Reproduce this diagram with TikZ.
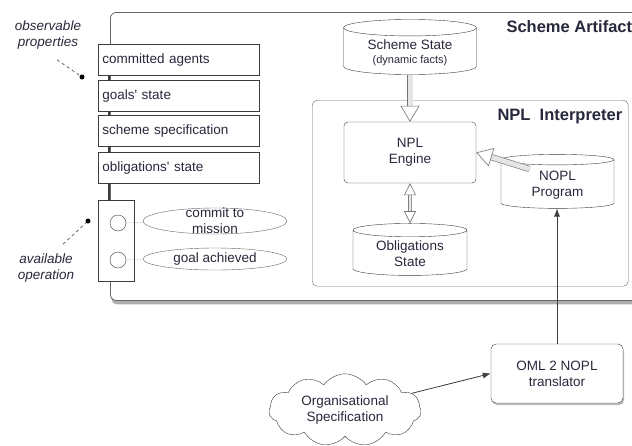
\documentclass[tikz,border=0pt]{standalone}
\usepackage{fontspec}
\setmainfont{Liberation Sans}
\usetikzlibrary{shapes.geometric,shapes.symbols,shadows,arrows.meta,positioning,calc}

\definecolor{txt}{RGB}{40,40,60}
\definecolor{edge}{RGB}{60,60,60}

\tikzset{
  artbox/.style={draw=black!60, thick, fill=white, rounded corners=6pt,
    drop shadow={shadow xshift=1pt, shadow yshift=-4pt, fill=black!45, opacity=0.7}},
  panel/.style={draw=black!60, fill=white, rounded corners=5pt},
  title/.style={font=\fontsize{16.5}{18}\selectfont\bfseries},
  propbox/.style={draw=edge, thick, fill=white, anchor=north west, minimum height=31pt,
    text width=153pt, inner xsep=4pt, align=left},
  opsbox/.style={draw=edge, thick, fill=white, anchor=north west},
  opcirc/.style={draw=edge, circle, minimum size=16pt, inner sep=0pt},
  opell/.style={draw=black!60, ellipse, minimum width=144pt, inner sep=0pt},
  opline/.style={densely dotted, black!60},
  note/.style={font=\fontsize{13.5}{16}\selectfont\itshape, align=center},
  dot/.style={circle, fill=black, minimum size=5pt, inner sep=0pt},
  notelink/.style={dashed, black!60, thick},
  store/.style={draw=edge, cylinder, shape border rotate=90, aspect=0.18, align=center, fill=white},
  engbox/.style={draw=edge, rounded corners=4pt, align=center},
  transbox/.style={draw=edge, fill=white, rounded corners=5pt, align=center,
    drop shadow={shadow xshift=1pt, shadow yshift=-2pt, fill=black!45, opacity=0.6}},
  fatarrow/.style={draw=black!55, line width=0.6pt, double=black!10, double distance=5pt,
    -{Triangle[length=16pt, width=19pt, fill=white]}},
  thinarrow/.style={draw=edge, thick, -{Latex[length=8pt, width=6pt]}}
}

\begin{document}
\begin{tikzpicture}[x=1pt, y=-1pt, font=\fontsize{13.5}{16}\selectfont, text=txt]
\useasboundingbox (0,0) rectangle (632,445);

% scheme artifact
\node (artifact) [artbox, anchor=north west, minimum width=560pt, minimum height=288pt] at (110,12) {};
\node (arttitle) [title, anchor=west] at (503,27) {Scheme Artifact};

% observable properties
\node (prop1) [propbox] at (98,44) {committed agents};
\node (prop2) [propbox] at (98,80) {goals\textquotesingle{} state};
\node (prop3) [propbox] at (98,115) {scheme specification};
\node (prop4) [propbox] at (98,152) {obligations\textquotesingle{} state};

% operations
\node (ops) [opsbox, minimum width=36pt, minimum height=81pt] at (98,200) {};
\foreach \a/\b in {prop1/prop2, prop2/prop3, prop3/prop4, prop4/ops}
  \draw[edge, line width=1.6pt] ([xshift=11pt]\a.south west) -- ([xshift=11pt]\b.north west);
\node (op1) [opcirc] at (118,223) {};
\node (op2) [opcirc] at (118,260) {};
\node (cmt) [opell, minimum height=26pt,
  label={[align=center]center:{commit to\\mission}}] at (215,221) {};
\node (goal) [opell, minimum height=22pt,
  label={center:goal achieved}] at (215,259) {};
\draw[opline] (op1) -- (cmt);
\draw[opline] (op2) -- (goal);

% annotations
\node (obslbl) [note] at (48,35) {observable\\properties};
\node (obsdot) [dot] at (82,77) {};
\draw[notelink] ($(obslbl.south)+(9,7)$) -- (obsdot);
\node (avllbl) [note] at (46,268) {available\\operation};
\node (avldot) [dot] at (88,221) {};
\draw[notelink] ($(avllbl.north)+(17,-6)$) -- (avldot);

% scheme state
\node (sstate) [store, minimum width=133pt, minimum height=55pt] at (410,52.5)
  {Scheme State\\[-2pt]{\fontsize{11}{12}\selectfont (dynamic facts)}};

% NPL interpreter
\node (interp) [panel, anchor=north west, minimum width=316pt, minimum height=186pt] at (312,100) {};
\node (interptitle) [title, anchor=west] at (494,117) {NPL\ \ Interpreter};
\node (engine) [engbox, minimum width=132pt, minimum height=61pt] at (410,152.5) {NPL\\Engine};
\node (nopl) [store, minimum width=113pt, minimum height=54pt] at (557.5,185) {NOPL\\Program};
\node (oblig) [store, minimum width=114pt, minimum height=52pt] at (410,254) {Obligations\\State};

\draw[fatarrow] (sstate.south) -- (engine.north);
\draw[fatarrow] ($(nopl.north west)+(2,14)$) -- (engine.east);
\draw[fatarrow, {Triangle[length=12pt, width=12pt, fill=white]}-{Triangle[length=12pt, width=12pt, fill=white]}, double distance=2.5pt]
  (engine.south) -- (oblig.north);

% translator and organisational specification
\node (trans) [transbox, minimum width=132pt, minimum height=59pt] at (557,373.5) {OML 2 NOPL\\translator};
\node (orgspec) [draw=edge, cloud, cloud puffs=11, cloud puff arc=110, aspect=2.4,
  minimum width=152pt, minimum height=58pt, align=center, fill=white] at (345,410)
  {Organisational\\Specification};
\draw[thinarrow] (trans.north) -- (trans.north |- nopl.south);
\draw[thinarrow] (orgspec) -- (trans.west);

\end{tikzpicture}
\end{document}
